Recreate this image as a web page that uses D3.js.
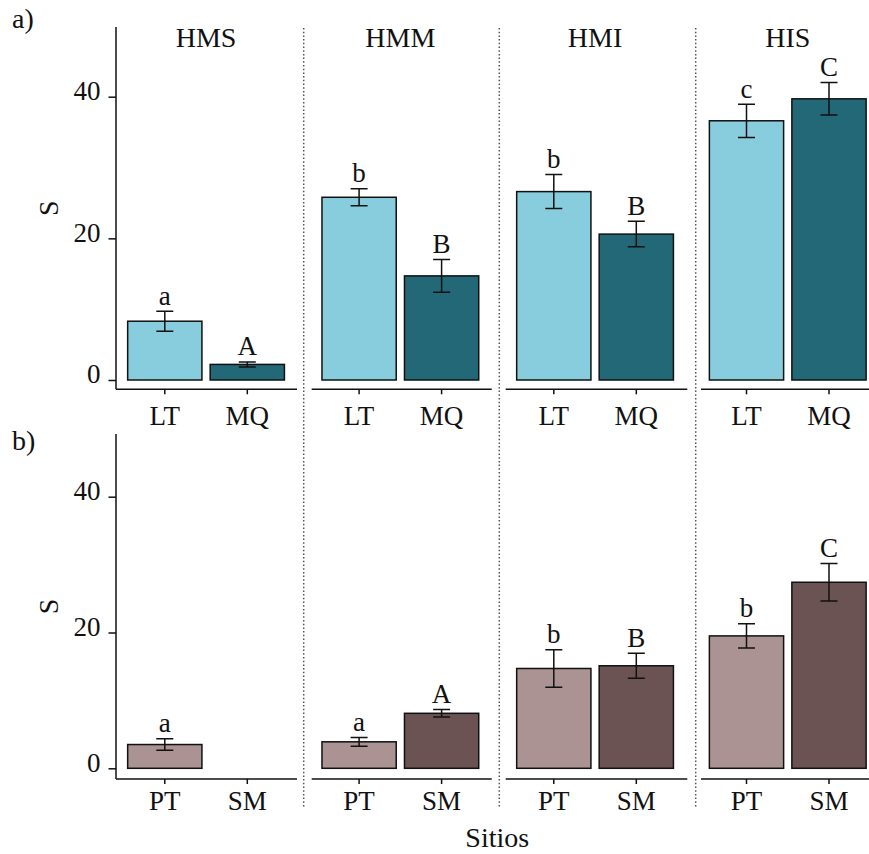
<!DOCTYPE html>
<html>
<head>
<meta charset="utf-8">
<script src="https://cdn.jsdelivr.net/npm/d3@7"></script>
<style>
  body { margin: 0; background: #fff; }
  svg { display: block; overflow: hidden; }
  text { font-family: "Liberation Serif", "Times New Roman", serif; fill: #111; }
</style>
</head>
<body>
<div id="chart"></div>
<script>
// data
var facets = ["HMS", "HMM", "HMI", "HIS"];
var yTicks = [0, 20, 40];

// a) LT / MQ
var catsA = ["LT", "MQ"];
var meanLT = [8.3, 25.8, 26.6, 36.6];
var seLT = [1.4, 1.2, 2.4, 2.35];
var letLT = ["a", "b", "b", "c"];
var meanMQ = [2.2, 14.7, 20.6, 39.7];
var seMQ = [0.35, 2.3, 1.8, 2.3];
var letMQ = ["A", "B", "B", "C"];

// b) PT / SM  (no SM value for HMS)
var catsB = ["PT", "SM"];
var meanPT = [3.5, 3.9, 14.7, 19.5];
var sePT = [0.85, 0.65, 2.75, 1.8];
var letPT = ["a", "a", "b", "b"];
var meanSM = [null, 8.1, 15.1, 27.4];
var seSM = [null, 0.55, 1.85, 2.75];
var letSM = [null, "A", "B", "C"];

var colors = { LT: "#88cddd", MQ: "#236877", PT: "#ab9393", SM: "#6b5354" };

var svgWidth = 869;
var svgHeight = 854;

var svg = d3.select("#chart")
  .append("svg")
  .attr("width", svgWidth)
  .attr("height", svgHeight);

// facet columns (figure was pasted together, so spacing is not quite even)
var facetLeft = [115.3, 309.6, 504.3, 697];
var facetW = 181.5;
var axisStart = [116, 311.7, 505.7, 701];
var axisEnd = [297, 491.7, 687.3, 885];
var sepX = [303.7, 499.3, 695.7];

// dotted separators between facets, across both rows
sepX.forEach(function(x) {
  svg.append("line")
    .attr("x1", x).attr("x2", x)
    .attr("y1", 28).attr("y2", 808)
    .attr("stroke", "#555")
    .attr("stroke-width", 1.5)
    .attr("stroke-dasharray", "1.5,2.2");
});

var rows = [
  { tag: "a)", tagY: 28, cats: catsA, means: [meanLT, meanMQ], ses: [seLT, seMQ], lets: [letLT, letMQ],
    zeroY: 380, fortyY: 96.7, topY: 27, axisY: 389.3, tickPad: 11.8, strips: true },
  { tag: "b)", tagY: 450, cats: catsB, means: [meanPT, meanSM], ses: [sePT, seSM], lets: [letPT, letSM],
    zeroY: 768.3, fortyY: 496.7, topY: 434, axisY: 779, tickPad: 7, strips: false }
];

rows.forEach(function(row) {
  var y = d3.scaleLinear().domain([0, 40]).range([row.zeroY, row.fortyY]);

  // panel tag
  svg.append("text")
    .attr("x", 12).attr("y", row.tagY)
    .style("font-size", "28px")
    .text(row.tag);

  // y axis
  var yAxis = svg.append("g")
    .attr("transform", `translate(${axisStart[0]}, 0)`)
    .call(d3.axisLeft(y).tickValues(yTicks).tickSize(7.5).tickSizeOuter(0).tickPadding(8));
  yAxis.select(".domain").remove();
  yAxis.selectAll("line").attr("stroke", "#111").attr("stroke-width", 1.5);
  yAxis.selectAll("text")
    .attr("dy", "0.11em")
    .style("font-size", "27px")
    .style("font-family", "Liberation Serif, serif")
    .attr("fill", "#111");
  svg.append("line")
    .attr("x1", axisStart[0]).attr("x2", axisStart[0])
    .attr("y1", row.topY).attr("y2", row.axisY)
    .attr("stroke", "#111").attr("stroke-width", 1.5);

  // y title
  svg.append("text")
    .attr("transform", `translate(58, ${(row.topY + row.axisY) / 2}) rotate(-90)`)
    .attr("text-anchor", "middle")
    .style("font-size", "28px")
    .text("S");

  facets.forEach(function(f, fi) {
    var x0 = facetLeft[fi];
    var x = d3.scaleBand()
      .domain(row.cats)
      .range([x0, x0 + facetW])
      .paddingInner(0.1)
      .paddingOuter(0.15);

    if (row.strips) {
      svg.append("text")
        .attr("x", x0 + facetW / 2).attr("y", 46.7)
        .attr("text-anchor", "middle")
        .style("font-size", "28px")
        .text(f);
    }

    var data = row.cats.map(function(c, ci) {
      return { cat: c, mean: row.means[ci][fi], se: row.ses[ci][fi], letter: row.lets[ci][fi] };
    }).filter(function(d) { return d.mean != null; });

    var g = svg.append("g");

    g.selectAll("rect")
      .data(data)
      .enter()
      .append("rect")
      .attr("x", d => x(d.cat))
      .attr("width", x.bandwidth())
      .attr("y", d => y(d.mean))
      .attr("height", d => y(0) - y(d.mean))
      .attr("fill", d => colors[d.cat])
      .attr("stroke", "#111")
      .attr("stroke-width", 1.5);

    // error bars
    var cx = d => x(d.cat) + x.bandwidth() / 2;
    g.selectAll(".err")
      .data(data)
      .enter()
      .append("path")
      .attr("class", "err")
      .attr("d", function(d) {
        var c = cx(d), t = y(d.mean + d.se), b = y(d.mean - d.se);
        return `M${c - 8.5},${t}H${c + 8.5}M${c},${t}V${b}M${c - 8.5},${b}H${c + 8.5}`;
      })
      .attr("fill", "none")
      .attr("stroke", "#111")
      .attr("stroke-width", 1.5);

    g.selectAll(".letter")
      .data(data)
      .enter()
      .append("text")
      .attr("class", "letter")
      .attr("x", cx)
      .attr("y", d => y(d.mean + d.se) - 6.5)
      .attr("text-anchor", "middle")
      .style("font-size", "27px")
      .text(d => d.letter);

    // x axis per facet
    var xAxis = svg.append("g")
      .attr("transform", `translate(0, ${row.axisY})`)
      .call(d3.axisBottom(x).tickSize(5).tickSizeOuter(0).tickPadding(row.tickPad));
    xAxis.select(".domain").remove();
    xAxis.selectAll("line").attr("stroke", "#111").attr("stroke-width", 1.5);
    xAxis.selectAll("text")
      .style("font-size", "27px")
      .style("font-family", "Liberation Serif, serif")
      .attr("fill", "#111");
    svg.append("line")
      .attr("x1", axisStart[fi]).attr("x2", axisEnd[fi])
      .attr("y1", row.axisY).attr("y2", row.axisY)
      .attr("stroke", "#111").attr("stroke-width", 1.5);
  });
});

// x title
svg.append("text")
  .attr("x", (axisStart[0] + facetLeft[3] + facetW) / 2)
  .attr("y", 847)
  .attr("text-anchor", "middle")
  .style("font-size", "28px")
  .text("Sitios");
</script>
</body>
</html>
